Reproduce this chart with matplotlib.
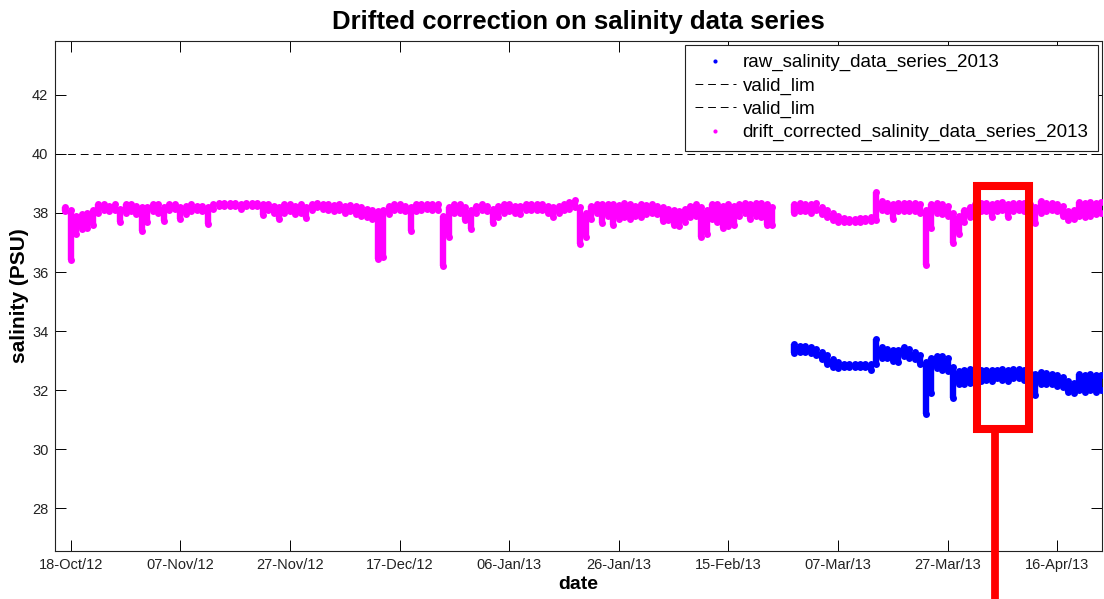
import datetime as dt
import numpy as np
import matplotlib
matplotlib.use("Agg")
import matplotlib.pyplot as plt
import matplotlib.dates as mdates
from matplotlib.lines import Line2D
from matplotlib.patches import Rectangle

plt.rcParams['font.family'] = ['Liberation Sans', 'DejaVu Sans']

# day 0 = 18-Oct-2012
t0 = dt.datetime(2012, 10, 18)

# drift corrected salinity, first deployment (daily max / min), starts at day -1
pink1_start = -1
pink1_hi = [38.20, 38.10, 37.90, 37.95, 38.00, 38.10, 38.32, 38.30, 38.25, 38.30,
            38.15, 38.30, 38.30, 38.25, 38.20, 38.20, 38.32, 38.30, 38.20, 38.32,
            38.30, 38.20, 38.25, 38.30, 38.25, 38.22, 38.20, 38.30, 38.33, 38.33,
            38.33, 38.33, 38.30, 38.33, 38.33, 38.33, 38.30, 38.30, 38.25, 38.20,
            38.30, 38.32, 38.25, 38.30, 38.20, 38.30, 38.33, 38.30, 38.30, 38.28,
            38.30, 38.25, 38.27, 38.22, 38.20, 38.15, 38.10, 38.05, 38.10, 38.25,
            38.30, 38.30, 38.25, 38.20, 38.30, 38.30, 38.30, 38.30, 38.30, 37.90,
            38.20, 38.30, 38.30, 38.20, 38.10, 38.25, 38.30, 38.25, 38.15, 38.25,
            38.30, 38.30, 38.25, 38.22, 38.30, 38.30, 38.30, 38.30, 38.25, 38.20,
            38.25, 38.30, 38.38, 38.45, 38.20, 38.00, 38.25, 38.30, 38.30, 38.32,
            38.30, 38.28, 38.33, 38.30, 38.25, 38.30, 38.28, 38.30, 38.25, 38.20,
            38.15, 38.10, 38.05, 38.15, 38.25, 38.30, 38.20, 38.10, 38.30, 38.30,
            38.25, 38.30, 38.25, 38.30, 38.33, 38.30, 38.33, 38.35, 38.30, 38.20]
pink1_lo = [38.05, 36.42, 37.30, 37.45, 37.50, 37.60, 38.00, 38.10, 38.05, 38.10,
            37.70, 38.00, 38.05, 37.95, 37.38, 37.70, 38.05, 38.00, 37.72, 38.10,
            38.15, 37.78, 37.95, 38.05, 38.10, 38.05, 37.62, 38.15, 38.25, 38.25,
            38.25, 38.25, 38.15, 38.25, 38.25, 38.25, 37.92, 38.10, 38.00, 37.80,
            38.00, 38.05, 37.95, 38.00, 37.82, 38.10, 38.20, 38.15, 38.10, 38.05,
            38.10, 38.00, 38.05, 37.95, 37.90, 37.85, 37.80, 36.45, 36.50, 37.95,
            38.10, 38.10, 38.05, 37.40, 38.05, 38.10, 38.12, 38.10, 38.10, 36.20,
            37.20, 38.00, 38.00, 37.75, 37.45, 38.00, 38.10, 38.05, 37.65, 37.85,
            38.00, 38.05, 38.00, 37.95, 38.10, 38.10, 38.10, 38.10, 38.00, 37.85,
            38.00, 38.10, 38.15, 38.20, 36.95, 37.20, 37.80, 38.00, 37.65, 37.90,
            37.60, 37.80, 37.85, 37.80, 37.90, 37.85, 37.95, 38.00, 37.95, 37.72,
            37.75, 37.60, 37.55, 37.70, 37.85, 37.90, 37.20, 37.30, 37.80, 37.70,
            37.50, 37.55, 37.60, 37.90, 38.00, 37.80, 37.90, 37.85, 37.60, 37.58]

# second deployment 2013, starts at day 132
s2_start = 132
pink2_hi = [38.30, 38.33, 38.30, 38.30, 38.33, 38.20, 38.10, 38.00, 37.90, 37.82,
            37.80, 37.80, 37.82, 37.82, 37.85, 38.70, 38.40, 38.33, 38.30, 38.33,
            38.33, 38.33, 38.33, 38.30, 38.10, 38.30, 38.33, 38.30, 38.25, 38.00,
            37.90, 38.10, 38.20, 38.30, 38.35, 38.35, 38.30, 38.35, 38.38, 38.30,
            38.35, 38.35, 38.33, 38.30, 38.20, 38.40, 38.35, 38.33, 38.30, 38.25,
            38.05, 38.10, 38.38, 38.35, 38.38, 38.35, 38.38]
pink2_lo = [38.00, 38.05, 38.05, 38.00, 38.10, 37.95, 37.85, 37.75, 37.70, 37.68,
            37.68, 37.70, 37.70, 37.72, 37.72, 37.75, 38.10, 38.05, 37.80, 38.05,
            38.05, 38.05, 38.05, 38.00, 36.25, 37.50, 38.00, 37.95, 37.90, 36.98,
            37.30, 37.70, 37.85, 38.00, 38.05, 38.05, 37.85, 38.05, 38.10, 37.85,
            38.05, 38.10, 38.05, 38.00, 37.65, 38.00, 38.05, 38.10, 38.05, 37.90,
            37.75, 37.80, 37.90, 37.85, 37.90, 37.95, 38.00]

raw_hi = [33.55, 33.50, 33.50, 33.45, 33.40, 33.30, 33.20, 33.05, 32.95, 32.90,
          32.88, 32.88, 32.88, 32.90, 32.90, 33.72, 33.45, 33.40, 33.35, 33.35,
          33.45, 33.40, 33.30, 33.20, 32.95, 33.10, 33.15, 33.15, 33.10, 32.80,
          32.65, 32.70, 32.72, 32.72, 32.70, 32.70, 32.68, 32.70, 32.72, 32.70,
          32.72, 32.73, 32.70, 32.60, 32.55, 32.62, 32.58, 32.55, 32.50, 32.45,
          32.30, 32.25, 32.55, 32.50, 32.55, 32.50, 32.52]
raw_lo = [33.25, 33.28, 33.30, 33.25, 33.20, 33.05, 32.90, 32.78, 32.75, 32.80,
          32.78, 32.78, 32.80, 32.78, 32.68, 32.90, 33.10, 33.10, 33.00, 32.95,
          33.15, 33.10, 33.05, 32.90, 31.20, 31.90, 32.75, 32.70, 32.65, 31.75,
          32.20, 32.20, 32.25, 32.30, 32.30, 32.35, 32.30, 32.40, 32.35, 32.30,
          32.40, 32.40, 32.35, 32.20, 31.85, 32.20, 32.20, 32.20, 32.15, 32.10,
          31.95, 31.90, 32.00, 31.95, 32.00, 31.95, 32.00]

valid_lim_hi = 40
valid_lim_lo = 2

# highlight box drawn over the figure (days, PSU)
box_day0, box_day1 = 165.4, 174.8
box_s0, box_s1 = 30.68, 38.92
stem_day = 168.7

xtick_days = list(range(0, 181, 20))


def days_to_num(start, n):
    base = mdates.date2num(t0)
    return base + start + np.arange(n)


fig = plt.figure(figsize=(11.04, 5.99), dpi=100)
ax = fig.add_axes([55.3 / 1104, 48 / 599, (1101.7 - 55.3) / 1104, (551 - 41) / 599])

blue = '#0000FF'
magenta = '#FF00FF'


def draw_band(start, hi, lo, color):
    x = days_to_num(start, len(hi))
    ax.vlines(x, lo, hi, color=color, lw=4.6, zorder=3)
    ax.plot(x, hi, 'o', color=color, ms=5, mew=0, zorder=3)
    ax.plot(x, lo, 'o', color=color, ms=5, mew=0, zorder=3)


dash = (8, 5)
draw_band(s2_start, raw_hi, raw_lo, blue)
ax.axhline(valid_lim_hi, color='black', lw=0.7, dashes=dash, zorder=2)
ax.axhline(valid_lim_lo, color='black', lw=0.7, dashes=dash, zorder=2)
draw_band(pink1_start, pink1_hi, pink1_lo, magenta)
draw_band(s2_start, pink2_hi, pink2_lo, magenta)

base = mdates.date2num(t0)
ax.set_xlim(base - 2.81, base + 188.1)
ax.set_ylim(26.56, 43.82)
ax.set_yticks(range(28, 43, 2))
ax.set_xticks([base + d for d in xtick_days])
ax.xaxis.set_major_formatter(mdates.DateFormatter('%d-%b/%y'))
ax.tick_params(direction='in', length=8, width=0.7, top=True, right=True,
               labelsize=10.5, labelcolor='#222222', pad=5)
for s in ax.spines.values():
    s.set_linewidth(0.8)
    s.set_color('#222222')

ax.set_title('Drifted correction on salinity data series', fontsize=18.5,
             fontweight='bold', pad=9)
ax.set_xlabel('date', fontsize=14, fontweight='bold', labelpad=3)
ax.set_ylabel('salinity (PSU)', fontsize=15, fontweight='bold', labelpad=2)

handles = [
    Line2D([], [], ls='none', marker='o', ms=3, mew=0, color=blue),
    Line2D([], [], color='black', lw=0.7, dashes=dash),
    Line2D([], [], color='black', lw=0.7, dashes=dash),
    Line2D([], [], ls='none', marker='o', ms=3, mew=0, color=magenta),
]
labels = ['raw_salinity_data_series_2013', 'valid_lim', 'valid_lim',
          'drift_corrected_salinity_data_series_2013']
leg = ax.legend(handles, labels, loc='upper right', fontsize=13.5, fancybox=False,
                framealpha=1, edgecolor='#222222', borderaxespad=0.2,
                handlelength=2.2, handletextpad=0.37, labelspacing=0.32,
                borderpad=0.5)
leg.get_frame().set_linewidth(0.8)
leg.set_zorder(5)

# red highlight annotation
rect = Rectangle((base + box_day0, box_s0), box_day1 - box_day0, box_s1 - box_s0,
                 fill=False, edgecolor='#FF0000', lw=5.8, joinstyle='miter', zorder=6)
ax.add_patch(rect)
ax.plot([base + stem_day, base + stem_day], [box_s0, 24.5], color='#FF0000',
        lw=5.6, solid_capstyle='butt', clip_on=False, zorder=6)

fig.savefig('out.png', dpi=100, facecolor='white')
